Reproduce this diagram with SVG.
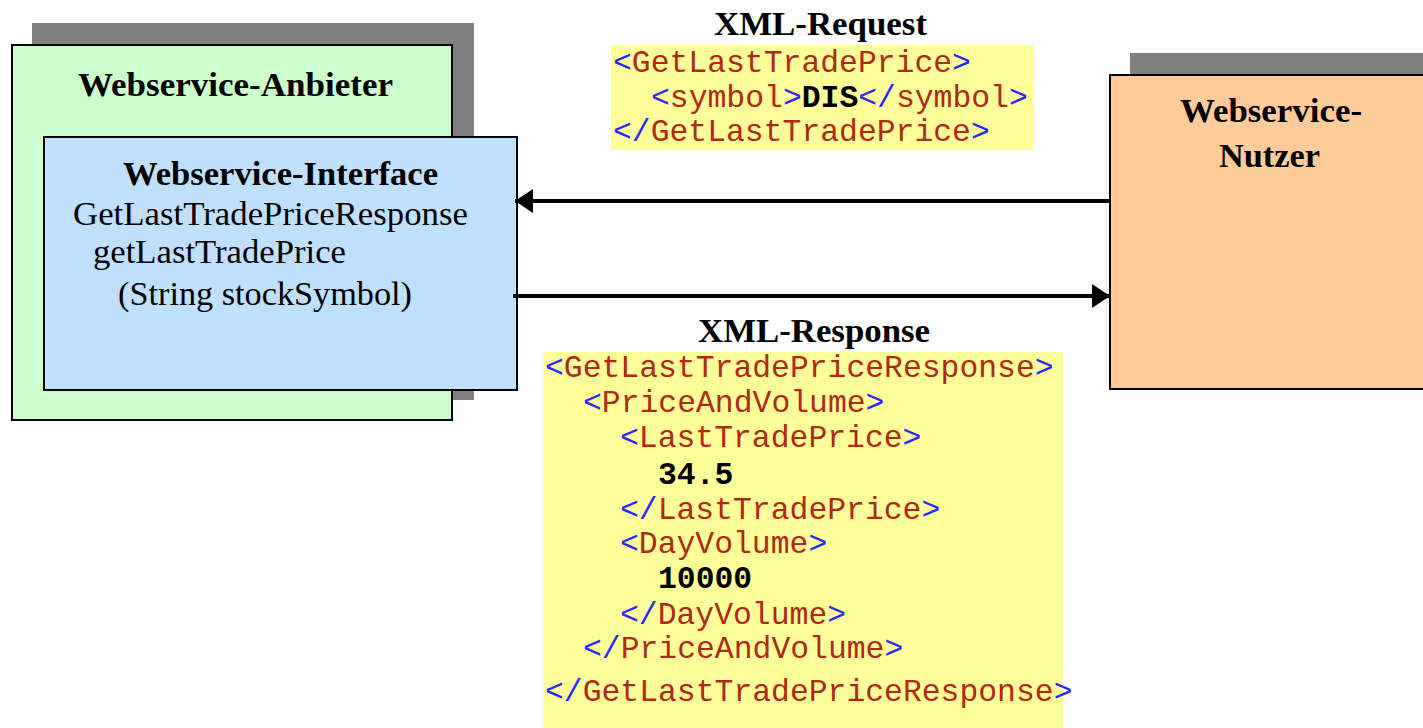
<svg xmlns="http://www.w3.org/2000/svg" width="1423" height="728" viewBox="0 0 1423 728">
<style>
.title{font-family:"Liberation Serif","Times New Roman",serif;font-weight:bold;font-size:34px;fill:#000}
.body{font-family:"Liberation Serif","Times New Roman",serif;font-size:34px;fill:#000}
.code{font-family:"Liberation Mono","Courier New",monospace;font-size:31.4px;fill:#b02818}
.b{fill:#2a2aff}
.v{fill:#000;font-weight:bold}
.box{stroke:#000;stroke-width:2}
.shadow{fill:#808080}
.conn{stroke:#000;stroke-width:4;fill:none}
</style>
<defs>
<marker id="ah" markerWidth="18" markerHeight="24" refX="18" refY="12" orient="auto" markerUnits="userSpaceOnUse">
<path d="M0,0 L18,12 L0,24 Z" fill="#000"/>
</marker>
</defs>
<rect width="1423" height="728" fill="#fff"/>
<g id="anbieter">
<rect class="shadow" x="32" y="23" width="442" height="377"/>
<rect class="box" x="12" y="45" width="440" height="375" fill="#ccffcc"/>
<text class="title" x="78" y="96" textLength="315" lengthAdjust="spacingAndGlyphs">Webservice-Anbieter</text>
</g>
<g id="interface">
<rect class="box" x="44" y="137" width="473" height="253" fill="#c0e0ff"/>
<text class="title" x="123" y="185" textLength="315" lengthAdjust="spacingAndGlyphs">Webservice-Interface</text>
<text class="body" x="73" y="225" textLength="395" lengthAdjust="spacingAndGlyphs">GetLastTradePriceResponse</text>
<text class="body" x="93" y="263" textLength="253" lengthAdjust="spacingAndGlyphs">getLastTradePrice</text>
<text class="body" x="118" y="305" textLength="294" lengthAdjust="spacingAndGlyphs">(String stockSymbol)</text>
</g>
<g id="nutzer">
<rect class="shadow" x="1130" y="53" width="293" height="24"/>
<rect class="box" x="1110" y="75" width="320" height="314" fill="#ffcc99"/>
<text class="title" x="1180" y="122" textLength="182" lengthAdjust="spacingAndGlyphs">Webservice-</text>
<text class="title" x="1219" y="167" textLength="101" lengthAdjust="spacingAndGlyphs">Nutzer</text>
</g>
<g id="request">
<text class="title" x="714" y="35" textLength="213" lengthAdjust="spacingAndGlyphs">XML-Request</text>
<rect x="611" y="45" width="422" height="105" fill="#ffff99"/>
<text class="code" x="613" y="72"><tspan class="b">&lt;</tspan>GetLastTradePrice<tspan class="b">&gt;</tspan></text>
<text class="code" x="651" y="107"><tspan class="b">&lt;</tspan>symbol<tspan class="b">&gt;</tspan><tspan class="v">DIS</tspan><tspan class="b">&lt;/</tspan>symbol<tspan class="b">&gt;</tspan></text>
<text class="code" x="613" y="141"><tspan class="b">&lt;/</tspan>GetLastTradePrice<tspan class="b">&gt;</tspan></text>
</g>
<g id="response">
<text class="title" x="698" y="342" textLength="232" lengthAdjust="spacingAndGlyphs">XML-Response</text>
<rect x="543" y="352" width="520" height="376" fill="#ffff99"/>
<text class="code" x="545" y="377"><tspan class="b">&lt;</tspan>GetLastTradePriceResponse<tspan class="b">&gt;</tspan></text>
<text class="code" x="583" y="412"><tspan class="b">&lt;</tspan>PriceAndVolume<tspan class="b">&gt;</tspan></text>
<text class="code" x="620" y="447"><tspan class="b">&lt;</tspan>LastTradePrice<tspan class="b">&gt;</tspan></text>
<text class="code v" x="658" y="484">34.5</text>
<text class="code" x="620" y="519"><tspan class="b">&lt;/</tspan>LastTradePrice<tspan class="b">&gt;</tspan></text>
<text class="code" x="620" y="553"><tspan class="b">&lt;</tspan>DayVolume<tspan class="b">&gt;</tspan></text>
<text class="code v" x="658" y="588">10000</text>
<text class="code" x="620" y="624"><tspan class="b">&lt;/</tspan>DayVolume<tspan class="b">&gt;</tspan></text>
<text class="code" x="583" y="658"><tspan class="b">&lt;/</tspan>PriceAndVolume<tspan class="b">&gt;</tspan></text>
<text class="code" x="545" y="701"><tspan class="b">&lt;/</tspan>GetLastTradePriceResponse<tspan class="b">&gt;</tspan></text>
</g>
<g id="connectors">
<line class="conn" x1="1110" y1="201" x2="515" y2="201" marker-end="url(#ah)"/>
<line class="conn" x1="513" y1="296" x2="1110" y2="296" marker-end="url(#ah)"/>
</g>
</svg>
